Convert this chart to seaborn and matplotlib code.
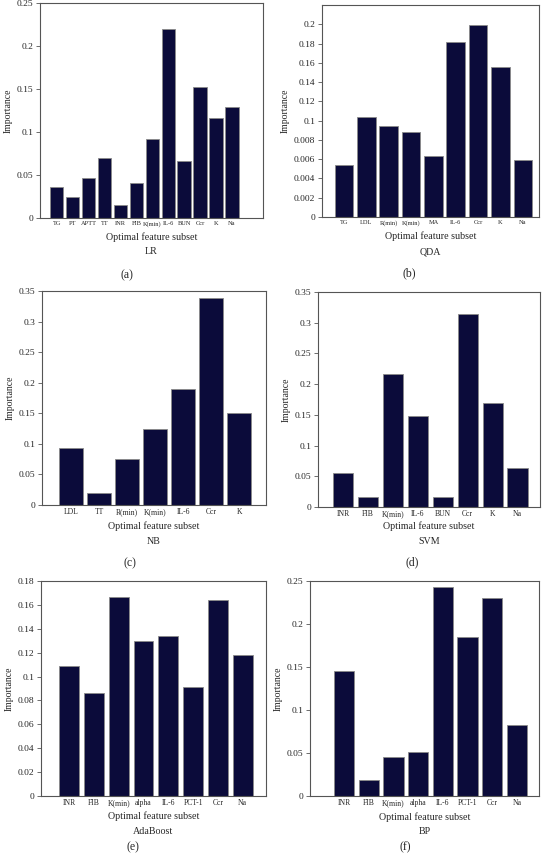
# Importance des variables du sous-ensemble optimal, 6 modèles
import matplotlib
matplotlib.use("Agg")
import matplotlib.pyplot as plt
import seaborn as sns

# Données
lr_feat = ['TG', 'PT', 'APTT', 'TT', 'INR', 'FIB', 'K(min)', 'IL-6', 'BUN', 'Ccr', 'K', 'Na']
lr_imp = [0.036, 0.024, 0.046, 0.070, 0.015, 0.041, 0.092, 0.220, 0.066, 0.152, 0.116, 0.129]

qda_feat = ['TG', 'LDL', 'R(min)', 'K(min)', 'MA', 'IL-6', 'Ccr', 'K', 'Na']
qda_imp = [0.054, 0.104, 0.094, 0.088, 0.063, 0.182, 0.199, 0.156, 0.059]
qda_ticklabels = ['0', '0.002', '0.004', '0.006', '0.008', '0.1', '0.12', '0.14', '0.16', '0.18', '0.2']

nb_feat = ['LDL', 'TT', 'R(min)', 'K(min)', 'IL-6', 'Ccr', 'K']
nb_imp = [0.094, 0.019, 0.076, 0.125, 0.190, 0.339, 0.151]

svm_feat = ['INR', 'FIB', 'K(min)', 'IL-6', 'BUN', 'Ccr', 'K', 'Na']
svm_imp = [0.055, 0.016, 0.216, 0.148, 0.016, 0.314, 0.169, 0.063]

ada_feat = ['INR', 'FIB', 'K(min)', 'alpha', 'IL-6', 'PCT-1', 'Ccr', 'Na']
ada_imp = [0.109, 0.086, 0.167, 0.130, 0.134, 0.091, 0.164, 0.118]

bp_feat = ['INR', 'FIB', 'K(min)', 'alpha', 'IL-6', 'PCT-1', 'Ccr', 'Na']
bp_imp = [0.145, 0.019, 0.045, 0.051, 0.243, 0.185, 0.230, 0.083]

sns.set_theme(style="white")
plt.rcParams['font.family'] = ['Liberation Serif', 'DejaVu Serif']

W, H = 544, 857
BAR = '#0b0b3a'
SPINE = '#555555'
fig = plt.figure(figsize=(W / 100, H / 100), dpi=100)


def px_axes(x0, y0, x1, y1):
    return fig.add_axes([x0 / W, 1 - y1 / H, (x1 - x0) / W, (y1 - y0) / H])


def panel(box, feats, vals, ylim, step, xlim, width, tick_fs, title, letter, text_y, ticklabels=None):
    x0, y0, x1, y1 = box
    ax = px_axes(x0, y0, x1, y1)
    sns.barplot(x=feats, y=vals, color=BAR, width=width, edgecolor='#8a8a8a',
                linewidth=0.6, saturation=1, ax=ax)
    ax.set_xlim(*xlim)
    ax.set_ylim(*ylim)
    if ticklabels is None:
        n = int(round(ylim[1] / step))
        ticks = [i * step for i in range(n + 1)]
        ticklabels = [f"{round(t, 3):g}" for t in ticks]
    else:
        ticks = [i * step for i in range(len(ticklabels))]
    ax.set_yticks(ticks)
    ax.set_yticklabels(ticklabels, fontsize=6.8)
    ax.tick_params(axis='y', length=3, width=0.6, color=SPINE, pad=2, left=True)
    ax.tick_params(axis='x', length=0, pad=2, labelsize=tick_fs)
    ax.set_xlabel("")
    ax.set_ylabel("Importance", fontsize=7, labelpad=3)
    for s in ax.spines.values():
        s.set_color(SPINE)
        s.set_linewidth(0.8)
    cx = (x0 + x1) / 2 / W
    fig.text(cx, 1 - text_y[0] / H, "Optimal feature subset", ha='center', va='center', fontsize=7.2)
    fig.text(cx, 1 - text_y[1] / H, title, ha='center', va='center', fontsize=7.2)
    fig.text(text_y[3] / W, 1 - text_y[2] / H, letter, ha='center', va='center', fontsize=8.5)
    return ax


panel((40, 3, 263, 218), lr_feat, lr_imp, (0, 0.25), 0.05, (-1.05, 12.95), 0.84, 4.6,
      "LR", "(a)", (237, 252, 275, 127))
panel((322, 5, 539, 217), qda_feat, qda_imp, (0, 0.22), 0.02, (-0.98, 8.72), 0.83, 4.6,
      "QDA", "(b)", (236, 252, 273, 409), ticklabels=qda_ticklabels)
panel((42, 291, 266, 505), nb_feat, nb_imp, (0, 0.35), 0.05, (-1.04, 6.96), 0.86, 5.5,
      "NB", "(c)", (526, 541, 563, 130))
panel((318, 292, 540, 507), svm_feat, svm_imp, (0, 0.35), 0.05, (-1.0, 7.9), 0.81, 5.5,
      "SVM", "(d)", (526, 541, 562, 412))
panel((41, 581, 266, 796), ada_feat, ada_imp, (0, 0.18), 0.02, (-1.13, 7.94), 0.80, 5.5,
      "AdaBoost", "(e)", (816, 832, 847, 133))
panel((310, 581, 539, 796), bp_feat, bp_imp, (0, 0.25), 0.05, (-1.38, 7.9), 0.82, 5.5,
      "BP", "(f)", (817, 832, 847, 405))

fig.savefig("out.png", dpi=100)
